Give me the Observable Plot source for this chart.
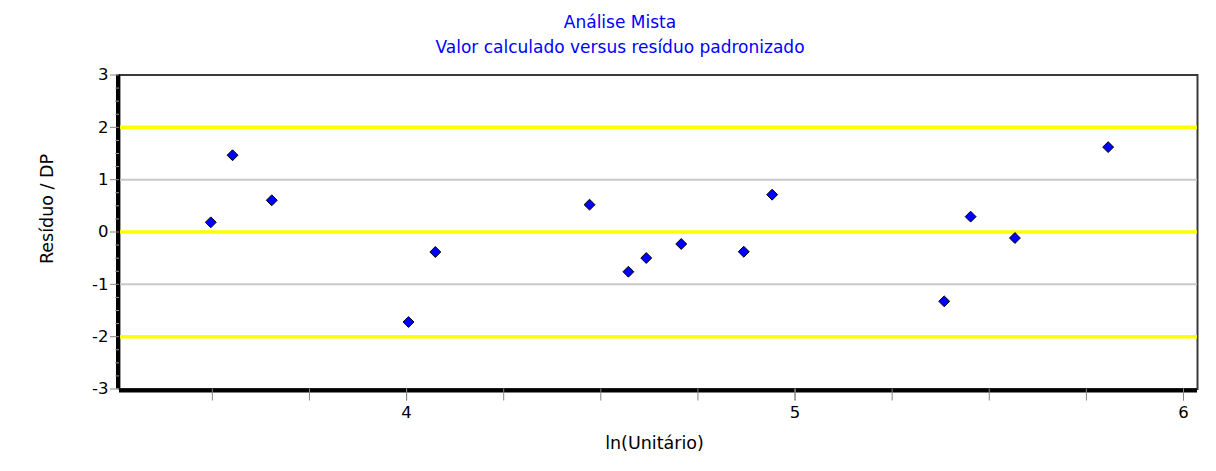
<!DOCTYPE html>
<html>
<head>
<meta charset="utf-8">
<script src="https://cdn.jsdelivr.net/npm/d3@7"></script>
<script src="https://cdn.jsdelivr.net/npm/@observablehq/plot@0.6"></script>
<style>
  html, body { margin: 0; padding: 0; background: #fff; }
  #wrap { position: relative; width: 1216px; height: 471px; }
  #title { position: absolute; top: 10px; left: 0; width: 1240px; text-align: center;
           font-family: "DejaVu Sans", sans-serif; font-size: 17px; line-height: 25px; color: #0000ff; }
  svg { display: block; }
</style>
</head>
<body>
<div id="wrap">
  <div id="title"></div>
  <div id="chart"></div>
</div>
<script>
const titleLines = ["Análise Mista", "Valor calculado versus resíduo padronizado"];
const xLabel = "ln(Unitário)";
const yLabel = "Resíduo / DP";

// ln(Unitário) — calculated value
const xValues = [3.496, 3.552, 3.653, 4.005, 4.074, 4.471, 4.571, 4.617, 4.707, 4.868, 4.941, 5.384, 5.452, 5.566, 5.806];
// standardized residual
const yValues = [0.185, 1.467, 0.606, -1.72, -0.382, 0.522, -0.759, -0.497, -0.229, -0.377, 0.713, -1.325, 0.293, -0.115, 1.622];

const xDomain = [3.261, 6.036];
const yDomain = [-3, 3];
const xMajorTicks = [4, 5, 6];
const xMinorTicks = [3.5, 3.75, 4, 4.25, 4.5, 4.75, 5, 5.25, 5.5, 5.75, 6];
const yMajorTicks = [-3, -2, -1, 0, 1, 2, 3];
const yMinorTicks = [-2.75, -2.5, -2.25, -1.75, -1.5, -1.25, -0.75, -0.5, -0.25, 0.25, 0.5, 0.75, 1.25, 1.5, 1.75, 2.25, 2.5, 2.75];
const limitLines = [-2, 0, 2];
const gridLines = [-1, 1];

document.getElementById("title").innerHTML = titleLines.join("<br>");

const points = xValues.map((x, i) => ({x, y: yValues[i]}));

const font = '"DejaVu Sans", sans-serif';
const fmt = d => String(d);

const chart = Plot.plot({
  width: 1216,
  height: 471,
  marginLeft: 119,
  marginRight: 19,
  marginTop: 74.5,
  marginBottom: 82.5,
  style: {fontFamily: font, fontSize: "16px", color: "#000", background: "#fff"},
  x: {domain: xDomain},
  y: {domain: yDomain},
  marks: [
    Plot.frame({stroke: "#3a3a3a", strokeWidth: 2}),
    Plot.ruleY(gridLines, {stroke: "#c8c8c8", strokeWidth: 2}),
    Plot.ruleY(limitLines, {stroke: "#ffff00", strokeWidth: 3.5}),
    // thick black left & bottom axes
    Plot.ruleX([xDomain[0]], {stroke: "#000", strokeWidth: 4, dx: -1.5}),
    Plot.ruleY([yDomain[0]], {stroke: "#000", strokeWidth: 4, dy: 1.5, x1: xDomain[0], x2: xDomain[1]}),
    // y axis
    Plot.axisY(yMajorTicks, {tickSize: 9, tickPadding: 2, stroke: "#888", fontSize: 16.5, tickFormat: fmt, label: null}),
    Plot.axisY(yMinorTicks, {tickSize: 4, text: null, stroke: "#999", label: null}),
    // x axis
    Plot.axisX(xMinorTicks, {tickSize: 12, text: null, stroke: "#888", label: null}),
    Plot.axisX(xMajorTicks, {tickSize: 12, tickPadding: 5, stroke: "#888", fontSize: 16.5, tickFormat: fmt, label: null}),
    // axis titles
    Plot.text([xLabel], {frameAnchor: "bottom", dx: -4, dy: 54, text: d => d, fontSize: 17.5, textAnchor: "middle", lineAnchor: "middle"}),
    Plot.text([yLabel], {frameAnchor: "left", dx: -72, dy: -23, rotate: -90, text: d => d, fontSize: 17.5, letterSpacing: 1.3, textAnchor: "middle", lineAnchor: "middle"}),
    // points
    Plot.dot(points, {x: "x", y: "y", symbol: "diamond2", r: 4.9, fill: "#0000ff", stroke: "#000", strokeWidth: 1})
  ]
});
document.getElementById("chart").appendChild(chart);
</script>
</body>
</html>
